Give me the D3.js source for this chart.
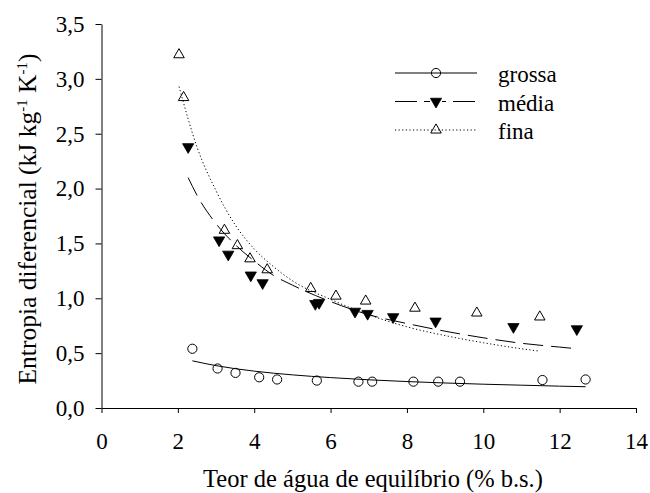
<!DOCTYPE html>
<html>
<head>
<meta charset="utf-8">
<script src="https://cdn.jsdelivr.net/npm/d3@7"></script>
<style>
  html, body { margin: 0; padding: 0; background: #fff; }
  #chart { width: 650px; height: 493px; }
  svg text { font-family: "Times New Roman", "Liberation Serif", "DejaVu Serif", serif !important; fill: #000; }
</style>
</head>
<body>
<div id="chart"></div>
<script>
// measured points (teor de água %, entropia kJ kg-1 K-1)
const grossaX = [2.38, 3.04, 3.51, 4.13, 4.6, 5.64, 6.73, 7.09, 8.17, 8.82, 9.39, 11.55, 12.68];
const grossaY = [0.54, 0.36, 0.32, 0.28, 0.26, 0.25, 0.24, 0.24, 0.24, 0.24, 0.24, 0.255, 0.26];

const mediaX = [2.27, 3.08, 3.32, 3.91, 4.22, 5.6, 5.7, 6.64, 6.97, 7.64, 8.75, 10.79, 12.45];
const mediaY = [2.38, 1.53, 1.40, 1.21, 1.14, 0.95, 0.96, 0.88, 0.86, 0.83, 0.79, 0.74, 0.72];

const finaX = [2.03, 2.15, 3.22, 3.56, 3.89, 4.34, 5.48, 6.14, 6.92, 8.21, 9.83, 11.48];
const finaY = [3.22, 2.83, 1.62, 1.48, 1.36, 1.26, 1.09, 1.02, 0.975, 0.91, 0.866, 0.83];

// fitted curves
const grossaFitX = [2.38, 3, 4, 5, 6, 7, 8, 9, 10, 11, 12, 12.68];
const grossaFitY = [0.43, 0.386, 0.336, 0.302, 0.277, 0.257, 0.241, 0.228, 0.217, 0.208, 0.199, 0.194];

const mediaFitX = [2.27, 2.5, 3, 3.5, 4, 4.5, 5, 6, 7, 8, 9, 10, 11, 12, 12.45];
const mediaFitY = [2.10, 1.94, 1.68, 1.49, 1.34, 1.21, 1.12, 0.97, 0.85, 0.77, 0.70, 0.64, 0.59, 0.555, 0.54];

const finaFitX = [2.03, 2.5, 3, 3.5, 4, 4.5, 5, 6, 7, 8, 9, 10, 11, 11.44];
const finaFitY = [2.93, 2.38, 1.98, 1.67, 1.45, 1.29, 1.16, 0.99, 0.85, 0.74, 0.66, 0.595, 0.54, 0.52];

const xTicks = [0, 2, 4, 6, 8, 10, 12, 14];
const yTicks = [0, 0.5, 1, 1.5, 2, 2.5, 3, 3.5];

const seriesNames = ['grossa', 'média', 'fina'];

const width = 650, height = 493;
const margin = { top: 24, right: 14, bottom: 85, left: 101.5 };
const iw = 636 - margin.left;
const ih = 408 - margin.top;
const serif = '"Times New Roman", "Liberation Serif", "DejaVu Serif", serif';

const svg = d3.select('#chart').append('svg')
  .attr('width', width).attr('height', height)
  .attr('font-family', serif);

const g = svg.append('g')
  .attr('transform', `translate(${margin.left},${margin.top})`);

const x = d3.scaleLinear().domain([0, 14]).range([0, iw]);
const y = d3.scaleLinear().domain([0, 3.5]).range([ih, 0]);

const comma = v => d3.format('.1f')(v).replace('.', ',');

const xAxis = g.append('g')
  .attr('transform', `translate(0,${ih})`)
  .call(d3.axisBottom(x).tickValues(xTicks).tickSize(5).tickSizeOuter(0).tickPadding(20).tickFormat(d3.format('d')));

const yAxis = g.append('g')
  .call(d3.axisLeft(y).tickValues(yTicks).tickSize(6).tickSizeOuter(0).tickPadding(11).tickFormat(comma));

[xAxis, yAxis].forEach(a => {
  a.attr('font-family', serif).attr('font-size', 23);
  a.selectAll('path, line').attr('stroke', '#000').attr('stroke-width', 1);
  a.selectAll('text').attr('fill', '#000');
});

// axis titles
svg.append('text')
  .attr('x', 373).attr('y', 487)
  .attr('text-anchor', 'middle').attr('font-size', 24.5)
  .text('Teor de água de equilíbrio (% b.s.)');

const yl = svg.append('text')
  .attr('transform', 'rotate(-90)')
  .attr('x', -219).attr('y', 36)
  .attr('text-anchor', 'middle').attr('font-size', 25.5);
yl.append('tspan').text('Entropia diferencial (kJ kg');
yl.append('tspan').attr('dy', -9).attr('font-size', 15).text('-1');
yl.append('tspan').attr('dy', 9).text(' K');
yl.append('tspan').attr('dy', -9).attr('font-size', 15).text('-1');
yl.append('tspan').attr('dy', 9).text(')');

// fitted lines
const line = d3.line().x(d => x(d[0])).y(d => y(d[1])).curve(d3.curveMonotoneX);
const lineStyles = [
  { dash: null },
  { dash: '20,8' },
  { dash: '1.2,2.4' }
];
const fits = [
  d3.zip(grossaFitX, grossaFitY),
  d3.zip(mediaFitX, mediaFitY),
  d3.zip(finaFitX, finaFitY)
];
fits.forEach((pts, i) => {
  g.append('path')
    .datum(pts)
    .attr('d', line)
    .attr('fill', 'none')
    .attr('stroke', '#000')
    .attr('stroke-width', 1)
    .attr('stroke-dasharray', lineStyles[i].dash);
});

// markers
const triDown = d3.symbol().type(d3.symbolTriangle).size(55);
const triUp = d3.symbol().type(d3.symbolTriangle).size(48);

function drawMarker(sel, kind) {
  if (kind === 0) {
    sel.append('circle').attr('r', 4.6)
      .attr('fill', 'none').attr('stroke', '#000').attr('stroke-width', 1);
  } else if (kind === 1) {
    sel.append('path').attr('d', triDown).attr('transform', 'rotate(180)')
      .attr('fill', '#000').attr('stroke', '#000').attr('stroke-width', 0.8);
  } else {
    sel.append('path').attr('d', triUp)
      .attr('fill', 'none').attr('stroke', '#000').attr('stroke-width', 1);
  }
}

const points = [
  d3.zip(grossaX, grossaY),
  d3.zip(mediaX, mediaY),
  d3.zip(finaX, finaY)
];
points.forEach((pts, i) => {
  g.append('g').selectAll('g')
    .data(pts)
    .join('g')
    .attr('transform', d => `translate(${x(d[0])},${y(d[1])})`)
    .each(function () { drawMarker(d3.select(this), i); });
});

// legend
const legend = svg.append('g');
seriesNames.forEach((name, i) => {
  const ly = 73 + i * 28.5;
  const row = legend.append('g').attr('transform', `translate(0,${ly})`);
  row.append('line')
    .attr('x1', 395).attr('x2', 477).attr('y1', 0).attr('y2', 0)
    .attr('stroke', '#000').attr('stroke-width', 1)
    .attr('stroke-dasharray', i === 1 ? '22,7' : lineStyles[i].dash);
  const m = row.append('g').attr('transform', 'translate(436,0)');
  if (i === 1) m.append('rect').attr('x', -6).attr('y', -2).attr('width', 12).attr('height', 4).attr('fill', '#fff');
  drawMarker(m, i);
  row.append('text')
    .attr('x', 498).attr('y', 9)
    .attr('font-size', 23)
    .text(name);
});
</script>
</body>
</html>
